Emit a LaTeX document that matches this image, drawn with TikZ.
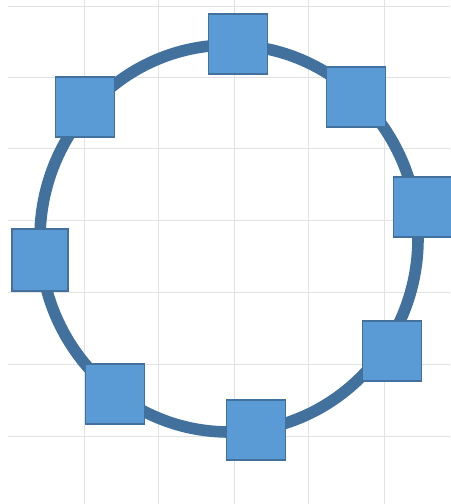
\documentclass[tikz,border=0pt]{standalone}
\usepackage{tikz}

\definecolor{boxblue}{HTML}{5B9BD5}
\definecolor{ringblue}{HTML}{41719C}
\definecolor{gridgray}{HTML}{E2E2E2}

\begin{document}
\begin{tikzpicture}[
        x=0.02cm, y=-0.02cm,
        gridline/.style={draw=gridgray, line width=0.5pt},
        ring/.style={draw=ringblue, line width=6.6pt},
        slot/.style={rectangle, draw=ringblue, line width=0.7pt, fill=boxblue,
            minimum width=1.18cm, minimum height=1.2cm, inner sep=0pt}
    ]

    % CANVAS
    \fill[white] (0,0) rectangle (450,504);
    \useasboundingbox (0,0) rectangle (450,504);

    % GRID
    \draw[gridline] (8,6) -- (450,6);
    \draw[gridline] (8,77) -- (450,77);
    \draw[gridline] (8,148) -- (450,148);
    \draw[gridline] (8,220) -- (450,220);
    \draw[gridline] (8,292) -- (450,292);
    \draw[gridline] (8,364) -- (450,364);
    \draw[gridline] (8,436) -- (450,436);
    \draw[gridline] (84,0) -- (84,504);
    \draw[gridline] (158,0) -- (158,504);
    \draw[gridline] (234,0) -- (234,504);
    \draw[gridline] (308,0) -- (308,504);
    \draw[gridline] (384,0) -- (384,504);

    % RING
    \draw[ring] (229,238.5) ellipse [x radius=189, y radius=193.5];

    % SQUARES ON THE RING
    \node[slot] (top) at (238,44) {};
    \node[slot] (upright) at (356,97) {};
    \node[slot] (right) at (423,207) {};
    \node[slot] (lowright) at (392,351) {};
    \node[slot] (bottom) at (256,430) {};
    \node[slot] (lowleft) at (115,394) {};
    \node[slot, minimum width=1.12cm, minimum height=1.24cm] (left) at (40,260) {};
    \node[slot] (upleft) at (85,107) {};

\end{tikzpicture}
\end{document}
